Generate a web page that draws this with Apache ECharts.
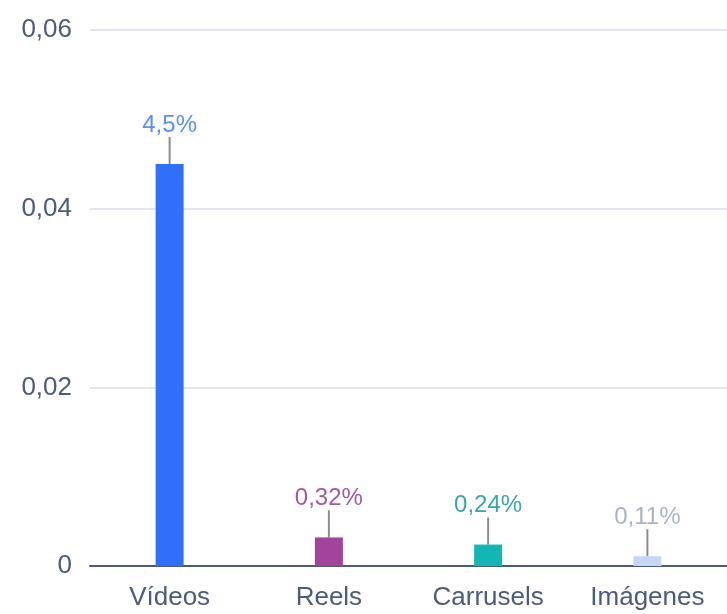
<!DOCTYPE html>
<html>
<head>
<meta charset="utf-8">
<script src="https://cdn.jsdelivr.net/npm/echarts@6/dist/echarts.min.js"></script>
<style>
  html, body { margin: 0; padding: 0; background: #fff; }
  #chart { width: 727px; height: 614px; }
</style>
</head>
<body>
<div id="chart"></div>
<script>
// Engagement rate by content format
const categories = ['Vídeos', 'Reels', 'Carrusels', 'Imágenes'];
const values = [0.045, 0.0032, 0.0024, 0.0011];
const valueLabels = ['4,5%', '0,32%', '0,24%', '0,11%'];
const yTicks = [0, 0.02, 0.04, 0.06];

const barColors = ['#2f6ff9', '#a3449c', '#13b5b5', '#c8d6f6'];
const labelColors = ['#5b8ef8', '#a35a9e', '#3aa6a6', '#aab3c5'];

const chart = echarts.init(document.getElementById('chart'));
const fontFamily = '"Liberation Sans", Arial, sans-serif';

chart.setOption({
  animation: false,
  grid: { left: 90, top: 30, width: 643, height: 536, containLabel: false },
  xAxis: {
    type: 'category',
    data: categories,
    axisLine: { lineStyle: { color: '#4c5b7c', width: 2 } },
    axisTick: { show: false },
    axisLabel: { color: '#4c5b7c', fontSize: 26, fontFamily, margin: 19 }
  },
  yAxis: {
    type: 'value',
    min: yTicks[0],
    max: yTicks[yTicks.length - 1],
    interval: 0.02,
    axisLine: { show: false },
    axisTick: { show: false },
    splitLine: { lineStyle: { color: '#e0e5ef', width: 2 } },
    axisLabel: {
      color: '#4c5b7c', fontSize: 26, fontFamily, margin: 18,
      formatter: v => String(v).replace('.', ',')
    }
  },
  series: [{
    type: 'bar',
    barWidth: 28,
    data: values.map((v, i) => ({
      value: v,
      itemStyle: { color: barColors[i] },
      label: { color: labelColors[i] }
    })),
    label: {
      show: true,
      position: 'top',
      distance: 2,
      fontSize: 24,
      fontFamily,
      formatter: p => valueLabels[p.dataIndex]
    },
    labelLayout: { dy: -25 },
    labelLine: { show: true, lineStyle: { color: '#8c8c8c', width: 2 } }
  }]
});
</script>
</body>
</html>
